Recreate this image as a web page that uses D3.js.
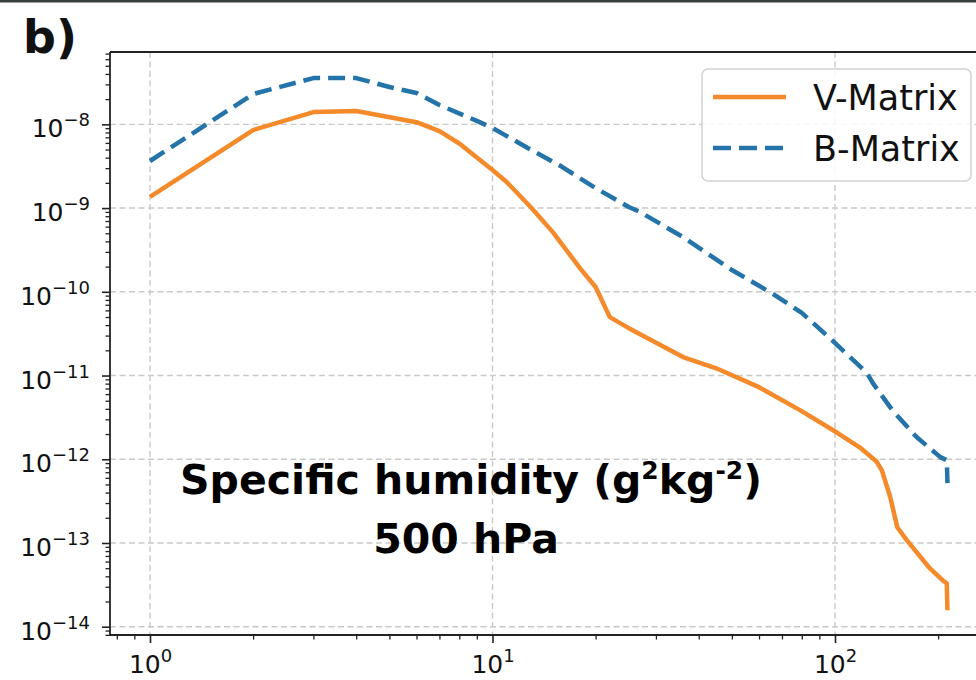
<!DOCTYPE html>
<html>
<head>
<meta charset="utf-8">
<script src="https://cdn.jsdelivr.net/npm/d3@7"></script>
<style>
  html, body { margin: 0; padding: 0; background: #fff; }
  svg { display: block; font-family: "DejaVu Sans", sans-serif; }
</style>
</head>
<body>
<div id="chart"></div>
<script>
// V-Matrix spectrum
const vMatrixN = [1, 2, 3, 4, 6, 7, 8, 10, 11, 13, 15, 18, 20, 22, 25, 36, 45, 60, 79, 101, 118, 132, 137, 145, 152, 162, 188, 206, 212, 213];
const vMatrixValues = [1.36e-9, 8.55e-9, 1.40e-8, 1.44e-8, 1.06e-8, 8.3e-9, 5.9e-9, 2.85e-9, 2.05e-9, 1.0e-9, 5.16e-10, 1.92e-10, 1.14e-10, 4.98e-11, 3.68e-11, 1.66e-11, 1.22e-11, 7.26e-12, 3.86e-12, 2.10e-12, 1.39e-12, 9.48e-13, 7.40e-13, 3.52e-13, 1.54e-13, 1.08e-13, 5.13e-14, 3.59e-14, 3.30e-14, 1.57e-14];

// B-Matrix spectrum
const bMatrixN = [1, 2, 3, 4, 5, 6, 7, 9, 10, 13, 16, 20, 25, 27, 36, 50, 66, 80, 98, 124, 129, 147, 173, 203, 212, 213];
const bMatrixValues = [3.65e-9, 2.30e-8, 3.57e-8, 3.57e-8, 2.79e-8, 2.37e-8, 1.70e-8, 1.10e-8, 9.03e-9, 4.93e-9, 3.09e-9, 1.73e-9, 1.03e-9, 8.95e-10, 4.50e-10, 1.82e-10, 9.4e-11, 5.6e-11, 2.65e-11, 1.07e-11, 8.1e-12, 3.86e-12, 1.84e-12, 1.06e-12, 9.75e-13, 5.18e-13];

const xTickValues = [1, 10, 100];
const xTickExponents = ["0", "1", "2"];
const yTickValues = [1e-8, 1e-9, 1e-10, 1e-11, 1e-12, 1e-13, 1e-14];
const yTickExponents = ["\u22128", "\u22129", "\u221210", "\u221211", "\u221212", "\u221213", "\u221214"];

const seriesNames = ["V-Matrix", "B-Matrix"];
const seriesColors = ["#f48a2a", "#2474a9"];

const width = 976;
const height = 680;
const plot = { left: 110, top: 52, right: 993, bottom: 635 };

const svg = d3.select("#chart").append("svg")
  .attr("width", width)
  .attr("height", height);

svg.append("rect").attr("width", width).attr("height", height).attr("fill", "#fff");
// dark strip along the top edge of the photo
svg.append("rect").attr("width", width).attr("height", 2.5).attr("fill", "#37403f");

const x = d3.scaleLog()
  .domain([Math.pow(10, -0.1168), Math.pow(10, 2.4613)])
  .range([plot.left, plot.right]);

const y = d3.scaleLog()
  .domain([Math.pow(10, -7.136), Math.pow(10, -14.099)])
  .range([plot.top, plot.bottom]);

svg.append("defs").append("clipPath").attr("id", "clip")
  .append("rect")
  .attr("x", plot.left).attr("y", plot.top)
  .attr("width", plot.right - plot.left).attr("height", plot.bottom - plot.top);

// grid (major ticks only)
const grid = svg.append("g").attr("stroke", "#c9c9c9").attr("stroke-width", 1.4).attr("stroke-dasharray", "6,3.5");
grid.selectAll(".gx").data(xTickValues).join("line")
  .attr("x1", (d) => x(d)).attr("x2", (d) => x(d))
  .attr("y1", plot.top).attr("y2", plot.bottom);
grid.selectAll(".gy").data(yTickValues).join("line")
  .attr("x1", plot.left).attr("x2", plot.right)
  .attr("y1", (d) => y(d)).attr("y2", (d) => y(d));

// minor ticks
const xMinor = x.ticks().filter((d) => !xTickValues.some((m) => Math.abs(m - d) < 1e-9));
const yMinor = y.ticks().filter((d) => !yTickValues.some((m) => Math.abs(m / d - 1) < 1e-6));

svg.append("g")
  .attr("transform", `translate(0,${plot.bottom})`)
  .call(d3.axisBottom(x).tickValues(xMinor).tickSize(4.5).tickFormat(""))
  .call((g) => g.select(".domain").remove())
  .call((g) => g.selectAll("line").attr("stroke", "#222").attr("stroke-width", 1.3));

svg.append("g")
  .attr("transform", `translate(${plot.left},0)`)
  .call(d3.axisLeft(y).tickValues(yMinor).tickSize(4.5).tickFormat(""))
  .call((g) => g.select(".domain").remove())
  .call((g) => g.selectAll("line").attr("stroke", "#222").attr("stroke-width", 1.3));

// major ticks with 10^n labels
function powerLabel(text, exponent) {
  text.append("tspan").style("font-size", "25px").text("10");
  text.append("tspan").attr("dy", -11).style("font-size", "18px").text(exponent);
}

svg.append("g")
  .attr("transform", `translate(0,${plot.bottom})`)
  .call(d3.axisBottom(x).tickValues(xTickValues).tickSize(8).tickFormat(""))
  .call((g) => g.select(".domain").remove())
  .call((g) => g.selectAll("line").attr("stroke", "#222").attr("stroke-width", 1.6))
  .call((g) => g.selectAll(".tick text")
    .attr("y", 38).attr("dy", null)
    .attr("fill", "#111")
    .style("font-family", "'DejaVu Sans', sans-serif")
    .style("font-size", "25px")
    .each(function (d, i) { powerLabel(d3.select(this), xTickExponents[i]); }));

svg.append("g")
  .attr("transform", `translate(${plot.left},0)`)
  .call(d3.axisLeft(y).tickValues(yTickValues).tickSize(8).tickPadding(12).tickFormat(""))
  .call((g) => g.select(".domain").remove())
  .call((g) => g.selectAll("line").attr("stroke", "#222").attr("stroke-width", 1.6))
  .call((g) => g.selectAll(".tick text")
    .attr("y", 12.5).attr("dy", null)
    .attr("fill", "#111")
    .style("font-family", "'DejaVu Sans', sans-serif")
    .style("font-size", "25px")
    .each(function (d, i) { powerLabel(d3.select(this), yTickExponents[i]); }));

// spines
const spines = svg.append("g").attr("stroke", "#222").attr("stroke-width", 1.8).attr("fill", "none");
spines.append("line").attr("x1", plot.left).attr("x2", plot.right).attr("y1", plot.top).attr("y2", plot.top);
spines.append("line").attr("x1", plot.left).attr("x2", plot.right).attr("y1", plot.bottom).attr("y2", plot.bottom);
spines.append("line").attr("x1", plot.left).attr("x2", plot.left).attr("y1", plot.top).attr("y2", plot.bottom);

// curves
const line = d3.line().x((d) => x(d[0])).y((d) => y(d[1]));
const series = [
  { name: seriesNames[0], color: seriesColors[0], dash: null, pts: d3.zip(vMatrixN, vMatrixValues) },
  { name: seriesNames[1], color: seriesColors[1], dash: "17,8", pts: d3.zip(bMatrixN, bMatrixValues) },
];

const lines = svg.append("g").attr("clip-path", "url(#clip)");
lines.selectAll("path").data(series).join("path")
  .attr("d", (d) => line(d.pts))
  .attr("fill", "none")
  .attr("stroke", (d) => d.color)
  .attr("stroke-width", 4.5)
  .attr("stroke-linejoin", "round")
  .attr("stroke-dasharray", (d) => d.dash);

// legend
const legend = svg.append("g");
legend.append("rect")
  .attr("x", 702).attr("y", 69).attr("width", 269).attr("height", 112)
  .attr("rx", 6)
  .attr("fill", "#fff").attr("fill-opacity", 0.85)
  .attr("stroke", "#d2d2d2").attr("stroke-width", 1.5);
const items = legend.selectAll(".item").data(series).join("g")
  .attr("transform", (d, i) => `translate(0,${97 + i * 51})`);
items.append("line")
  .attr("x1", 713).attr("x2", 786)
  .attr("stroke", (d) => d.color).attr("stroke-width", 4.5)
  .attr("stroke-dasharray", (d) => (d.dash ? "18,8" : null));
items.append("text")
  .attr("x", 813).attr("y", 13)
  .style("font-size", "35px").attr("fill", "#111")
  .text((d) => d.name);

// panel letter
svg.append("text")
  .attr("x", 23).attr("y", 53)
  .style("font-size", "46px").attr("font-weight", "bold").attr("fill", "#111")
  .text("b)");

// annotation
const note = svg.append("g")
  .attr("text-anchor", "middle")
  .attr("font-weight", "bold").attr("fill", "#000");
const l1 = note.append("text").attr("x", 471).attr("y", 494).style("font-size", "41px");
l1.append("tspan").text("Specific humidity (g");
l1.append("tspan").attr("dy", -15).style("font-size", "25px").text("2");
l1.append("tspan").attr("dy", 15).text("kg");
l1.append("tspan").attr("dy", -15).style("font-size", "25px").text("-2");
l1.append("tspan").attr("dy", 15).text(")");
note.append("text").attr("x", 466).attr("y", 553).style("font-size", "41px").text("500 hPa");
</script>
</body>
</html>
